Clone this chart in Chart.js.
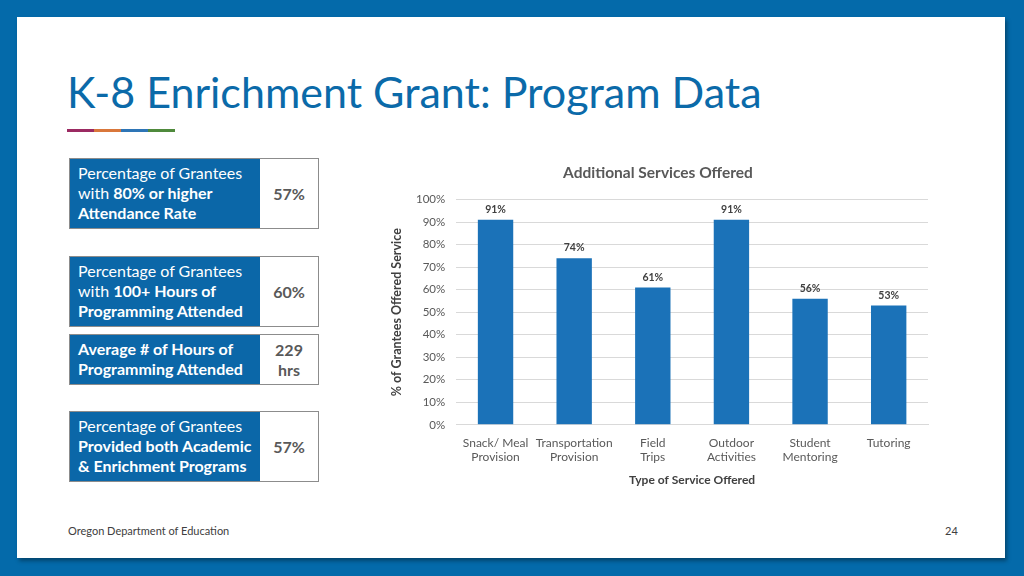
<!DOCTYPE html>
<html>
<head>
<meta charset="utf-8">
<script src="https://cdn.jsdelivr.net/npm/chart.js@4.4.0/dist/chart.umd.min.js"></script>
<style>
  html, body { margin: 0; padding: 0; }
  body { width: 1024px; height: 576px; background: #046aaa; position: relative; overflow: hidden; font-family: 'Lato', 'Open Sans', sans-serif; }
  #panel { position: absolute; left: 17px; top: 17px; width: 988px; height: 541px; background: #fff; box-shadow: 2px 3px 4px rgba(0,0,0,0.35); }
  #title { position: absolute; left: 67px; top: 66px; font-size: 43px; color: #0b6aa9; white-space: nowrap; }
  .bar { position: absolute; top: 129px; height: 3px; width: 27px; }
  .box { position: absolute; left: 69px; width: 248px; border: 1px solid #8c8c8c; display: flex; }
  .box .lbl { width: 182px; background: #0b67a8; color: #fff; font-size: 16px; line-height: 20px; padding: 4px 0 4px 8px; white-space: nowrap; }
  .box .val { flex: 1; display: flex; align-items: center; justify-content: center; text-align: center; color: #595959; font-weight: bold; font-size: 16px; line-height: 20px; }
  .foot { position: absolute; top: 524px; font-size: 11px; color: #404040; }
  #chartWrap { position: absolute; left: 388px; top: 155px; width: 560px; height: 340px; }
</style>
</head>
<body>
<div id="panel"></div>
<div id="title">K-8 Enrichment Grant: Program Data</div>
<div class="bar" style="left:67px;background:#9b2a62"></div>
<div class="bar" style="left:94px;background:#d9773b"></div>
<div class="bar" style="left:121px;background:#2e75b6"></div>
<div class="bar" style="left:148px;background:#4f8a3c"></div>

<div class="box" style="top:158px;height:69px"><div class="lbl">Percentage of Grantees<br>with <b>80% or higher</b><br><b>Attendance Rate</b></div><div class="val">57%</div></div>
<div class="box" style="top:256px;height:69px"><div class="lbl">Percentage of Grantees<br>with <b>100+ Hours of</b><br><b>Programming Attended</b></div><div class="val">60%</div></div>
<div class="box" style="top:334px;height:49px"><div class="lbl"><b>Average # of Hours of</b><br><b>Programming Attended</b></div><div class="val">229<br>hrs</div></div>
<div class="box" style="top:411px;height:69px"><div class="lbl">Percentage of Grantees<br><b>Provided both Academic</b><br><b>&amp; Enrichment Programs</b></div><div class="val">57%</div></div>

<div class="foot" style="left:68px">Oregon Department of Education</div>
<div class="foot" style="left:945px">24</div>

<div id="chartWrap"><canvas id="myChart" width="560" height="340"></canvas></div>

<script>
const ctx = document.getElementById('myChart');

// data
const services = [
  ['Snack/ Meal', 'Provision'],
  ['Transportation', 'Provision'],
  ['Field', 'Trips'],
  ['Outdoor', 'Activities'],
  ['Student', 'Mentoring'],
  ['Tutoring']
];
const pctOffered = [91, 74, 61, 91, 56, 53];

Chart.defaults.font.family = 'Lato, "Open Sans", sans-serif';
Chart.defaults.color = '#595959';

// draw value labels above bars
const valueLabels = {
  id: 'valueLabels',
  afterDatasetsDraw(chart) {
    const c = chart.ctx;
    c.save();
    c.font = 'bold 10.5px Lato, "Open Sans", sans-serif';
    c.fillStyle = '#404040';
    c.textAlign = 'center';
    c.textBaseline = 'bottom';
    chart.getDatasetMeta(0).data.forEach((bar, i) => {
      c.fillText(pctOffered[i] + '%', bar.x, bar.y - 5);
    });
    c.restore();
  }
};

let cc = new Chart(ctx, {
  type: 'bar',
  data: {
    labels: services,
    datasets: [{
      label: 'Additional Services Offered',
      data: pctOffered,
      backgroundColor: '#1b72b8',
      categoryPercentage: 1,
      barPercentage: 0.45
    }]
  },
  options: {
    responsive: false,
    animation: false,
    layout: { padding: { top: 0, right: 20, left: 0, bottom: 4 } },
    plugins: {
      legend: { display: false },
      tooltip: { enabled: false },
      title: {
        display: true,
        text: 'Additional Services Offered',
        color: '#595959',
        font: { size: 15.5, weight: 'bold' },
        padding: { top: 9, bottom: 17 },
        align: 'center'
      }
    },
    scales: {
      x: {
        grid: { display: false },
        border: { color: '#d9d9d9' },
        ticks: { color: '#595959', font: { size: 12 }, maxRotation: 0, autoSkip: false, padding: 3 },
        title: { display: true, text: 'Type of Service Offered', color: '#404040', font: { size: 12, weight: 'bold' }, padding: { top: 5 } }
      },
      y: {
        min: 0,
        max: 100,
        ticks: { stepSize: 10, color: '#595959', font: { size: 11.5 }, padding: 11, callback: v => v + '%' },
        grid: { color: '#d9d9d9', drawTicks: false },
        border: { display: false },
        title: { display: true, text: '% of Grantees Offered Service', color: '#404040', font: { size: 12.5, weight: 'bold' }, padding: { top: 1, bottom: 1 } }
      }
    }
  },
  plugins: [valueLabels]
});
</script>
</body>
</html>
